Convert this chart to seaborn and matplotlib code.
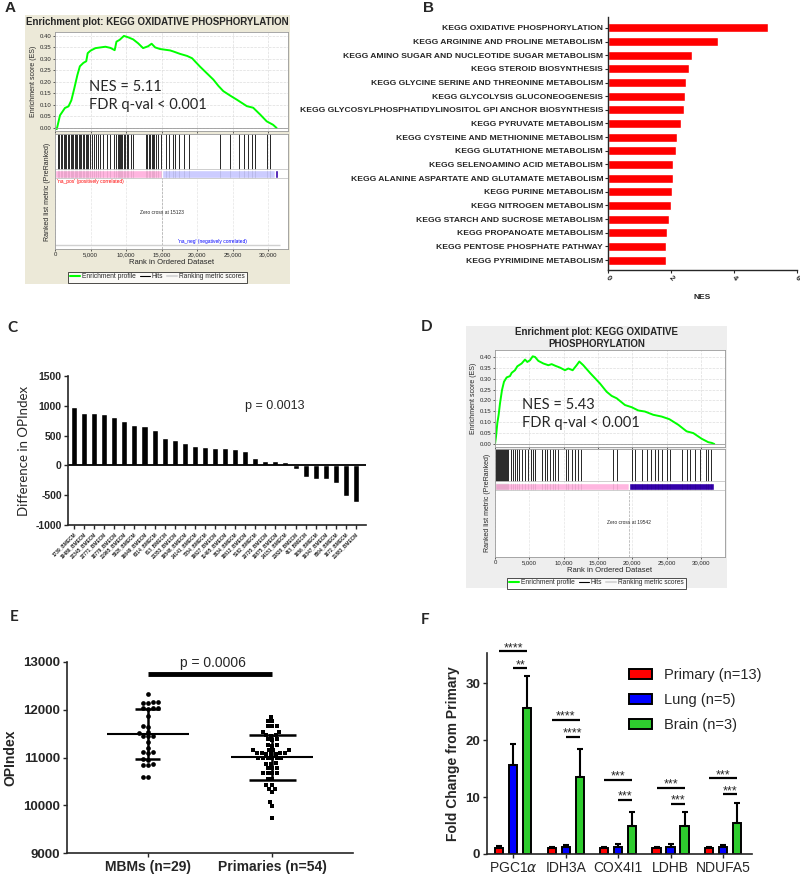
import numpy as np
import pandas as pd
import matplotlib
matplotlib.use("Agg")
import matplotlib.pyplot as plt
from matplotlib.patches import Rectangle, Patch
from matplotlib.lines import Line2D
import seaborn as sns

sns.set_style("ticks")
plt.rcParams['font.family'] = ['Liberation Sans', 'DejaVu Sans']
plt.rcParams['mathtext.fontset'] = 'dejavusans'

# ===============================
# DATA
# ===============================

# A - GSEA, metastases vs primaries
A_RANK = [0, 250, 700, 1400, 1900, 2300, 2700, 3150, 3500, 4000, 4400, 4600, 5000,
          5700, 6400, 7100, 7800, 8400, 8650, 9100, 9700, 10300, 11000, 11700, 12400,
          13100, 13600, 14100, 14800, 16200, 16700, 17600, 18600, 19300, 20400, 22300,
          23000, 23700, 24700, 25600, 27000, 27900, 28900, 29800, 30700, 31200]
A_ES = [0.0, -0.005, 0.055, 0.087, 0.094, 0.12, 0.17, 0.23, 0.268, 0.283, 0.29, 0.325,
        0.336, 0.347, 0.350, 0.353, 0.348, 0.338, 0.375, 0.383, 0.40, 0.394, 0.385,
        0.368, 0.347, 0.355, 0.366, 0.350, 0.343, 0.337, 0.332, 0.322, 0.313, 0.303,
        0.267, 0.210, 0.183, 0.160, 0.140, 0.123, 0.095, 0.088, 0.058, 0.029, 0.014, 0.0]
A_HITS = [450, 600, 800, 1000, 1200, 1400, 1600, 1800, 2000, 2200, 2400, 2600, 2800,
          3000, 3150, 3350, 3500, 3700, 3900, 4100, 4300, 4500, 4700, 4900, 5200, 5500,
          5800, 6100, 6350, 6800, 7300, 7800, 8350, 8600, 8800, 8950, 9150, 9350, 9500,
          9700, 9900, 10100, 10300, 10650, 11000, 12800, 13000, 13200, 13400, 13600,
          13800, 14000, 14200, 14500, 14900, 15600, 16000, 16600, 16900, 17400, 18100,
          18800, 23200, 24700, 25900, 26600, 27100, 27700, 28200, 29800, 30300]
A_ZERO_CROSS = 15123
A_BANDS = [(0, 15123, '#FFB6E0'), (15123, 31000, '#CCCCFF'), (31000, 31400, '#3300AA')]

# B - top enriched KEGG pathways
B_PATHWAYS = [
    'KEGG OXIDATIVE PHOSPHORYLATION',
    'KEGG ARGININE AND PROLINE METABOLISM',
    'KEGG AMINO SUGAR AND NUCLEOTIDE SUGAR METABOLISM',
    'KEGG STEROID BIOSYNTHESIS',
    'KEGG GLYCINE SERINE AND THREONINE METABOLISM',
    'KEGG GLYCOLYSIS GLUCONEOGENESIS',
    'KEGG GLYCOSYLPHOSPHATIDYLINOSITOL GPI ANCHOR BIOSYNTHESIS',
    'KEGG PYRUVATE METABOLISM',
    'KEGG CYSTEINE AND METHIONINE METABOLISM',
    'KEGG GLUTATHIONE METABOLISM',
    'KEGG SELENOAMINO ACID METABOLISM',
    'KEGG ALANINE ASPARTATE AND GLUTAMATE METABOLISM',
    'KEGG PURINE METABOLISM',
    'KEGG NITROGEN METABOLISM',
    'KEGG STARCH AND SUCROSE METABOLISM',
    'KEGG PROPANOATE METABOLISM',
    'KEGG PENTOSE PHOSPHATE PATHWAY',
    'KEGG PYRIMIDINE METABOLISM',
]
B_NES = [5.07, 3.48, 2.66, 2.57, 2.49, 2.46, 2.41, 2.31, 2.18, 2.17, 2.06, 2.05,
         2.03, 1.99, 1.94, 1.88, 1.84, 1.83]

# C - paired difference in OPIndex
C_SAMPLES = ['1739_BMECM', '19486_BMECM', '22345_BMECM', '22771_BMECM', '18779_BMECM',
             '21965_BMECM', '5928_BMECM', '16649_BMECM', '6314_BMECM', '613_BMECM',
             '23353_BMECM', '19548_BMECM', '24141_BMECM', '7354_BMECM', '19627_BMECM',
             '11405_BMECM', '3834_BMECM', '18612_BMECM', '5182_BMECM', '20735_BMECM',
             '10875_BMECM', '24151_BMECM', '23828_BMECM', '463_BMECM', '1656_BMECM',
             '19347_BMECM', '8804_BMECM', '1672_BMECM', '21883_BMECM']
C_DIFF = [972, 883, 872, 866, 810, 737, 670, 654, 587, 452, 419, 374, 318, 313, 296,
          285, 274, 235, 117, 78, 73, 56, -67, -196, -223, -235, -302, -508, -615]

# D - GSEA, second cohort
D_RANK = [0, 150, 340, 530, 730, 1020, 1310, 1700, 2180, 2430, 2910, 3250, 3880, 4370,
          4710, 5100, 5490, 5830, 6310, 7040, 7770, 8250, 8740, 9470, 10190, 10680,
          11310, 11890, 12280, 12860, 13830, 15290, 16260, 16990, 17720, 18930, 19900,
          20870, 21840, 23060, 24270, 25390, 26700, 27910, 28880, 30100, 31070, 31550, 31940]
D_ES = [0.0, 0.035, 0.096, 0.134, 0.187, 0.248, 0.286, 0.306, 0.312, 0.327, 0.339, 0.357,
        0.370, 0.388, 0.377, 0.385, 0.403, 0.400, 0.382, 0.370, 0.362, 0.367, 0.360,
        0.351, 0.339, 0.347, 0.339, 0.362, 0.379, 0.362, 0.327, 0.278, 0.240, 0.221,
        0.210, 0.179, 0.169, 0.154, 0.149, 0.134, 0.126, 0.114, 0.088, 0.058, 0.050,
        0.024, 0.008, 0.005, 0.0]
D_HITS = [100, 250, 400, 550, 700, 850, 1000, 1150, 1300, 1450, 1600, 1750, 1940, 2290,
          2580, 2910, 3250, 3540, 3890, 4370, 4850, 5200, 5490, 5820, 6800, 7280, 7610,
          8010, 8400, 8730, 9210, 10330, 10670, 11160, 11640, 12130, 12470, 17130, 17710,
          19900, 20380, 21350, 22080, 22660, 23290, 23770, 24260, 24990, 25470, 27180,
          27990, 28380, 29110, 29840, 30710, 31050, 31400]
D_ZERO_CROSS = 19542
D_BANDS = [(0, 19542, '#FFB6E0'), (19542, 31900, '#3300AA')]

# E - OPIndex per sample
E_GROUPS = ['MBMs (n=29)', 'Primaries (n=54)']
E_MBM = [12320, 12160, 12150, 12140, 12160, 12040, 12030, 12020, 12040, 11870, 11650,
         11640, 11540, 11520, 11460, 11450, 11440, 11330, 11200, 11110, 11120, 11100,
         10960, 10950, 10860, 10850, 10840, 10600, 10590]
E_PRIMARY = [11850, 11770, 11760, 11660, 11650, 11670, 11540, 11530, 11470, 11460, 11480,
             11380, 11370, 11390, 11260, 11250, 11270, 11160, 11150, 11150, 11160, 11090,
             11080, 11090, 11080, 11090, 11080, 11090, 10990, 11000, 10990, 11000, 10990,
             11000, 10880, 10870, 10870, 10780, 10790, 10780, 10680, 10670, 10680, 10680,
             10560, 10550, 10420, 10420, 10350, 10350, 10280, 10070, 9990, 9740]

# F - qPCR fold change
F_GENES = ['PGC1$\\alpha$', 'IDH3A', 'COX4I1', 'LDHB', 'NDUFA5']
F_GROUPS = ['Primary (n=13)', 'Lung (n=5)', 'Brain (n=3)']
F_COLORS = ['#FF0000', '#0000FF', '#2ECC2E']
F_PRIMARY = [1.0, 1.0, 1.0, 1.0, 1.0]
F_PRIMARY_ERR = [0.35, 0.3, 0.3, 0.3, 0.3]
F_LUNG = [15.6, 1.15, 1.3, 1.3, 1.15]
F_LUNG_ERR = [3.7, 0.4, 0.4, 0.4, 0.35]
F_BRAIN = [25.6, 13.6, 5.0, 5.0, 5.5]
F_BRAIN_ERR = [5.6, 4.9, 2.4, 2.4, 3.4]
# (gene index, from group, to group, height, stars)
F_SIG = [(0, 0, 2, 35.6, '****'), (0, 1, 2, 32.6, '**'),
         (1, 0, 2, 23.6, '****'), (1, 1, 2, 20.6, '****'),
         (2, 0, 2, 13.0, '***'), (2, 1, 2, 9.5, '***'),
         (3, 0, 2, 11.6, '***'), (3, 1, 2, 8.8, '***'),
         (4, 0, 2, 13.3, '***'), (4, 1, 2, 10.5, '***')]

# ===============================
# FIGURE HELPERS (pixel layout)
# ===============================

W, H = 800, 877
fig = plt.figure(figsize=(8, 8.77), dpi=100)


def fx(x):
    return x / W


def fy(y):
    return 1 - y / H


def box(x0, y0, x1, y1):
    return [x0 / W, 1 - y1 / H, (x1 - x0) / W, (y1 - y0) / H]


def panel_letter(x, y, letter, family='Liberation Sans'):
    fig.text(fx(x), fy(y), letter, fontsize=11, fontweight='bold', family=family,
             ha='center', va='center')


RANK_TICKS = [0, 5000, 10000, 15000, 20000, 25000, 30000]
ES_TICKS = [0.0, 0.05, 0.10, 0.15, 0.20, 0.25, 0.30, 0.35, 0.40]


def gsea_panel(bg, bg_color, title, title_y, es_box, low_box, xmax, es_ylim,
               rank, es, hits, bands, zero_cross, nes_xy, nes, legend_y, show_na):
    x0, y0, x1, y1 = bg
    fig.add_artist(Rectangle((fx(x0), fy(y1)), (x1 - x0) / W, (y1 - y0) / H,
                             transform=fig.transFigure, facecolor=bg_color,
                             edgecolor='none', zorder=-5))
    fig.text(fx((x0 + x1) / 2), fy(title_y), title, ha='center', va='center',
             fontsize=7, fontweight='bold', linespacing=1.15)

    es_ax = fig.add_axes(box(*es_box))
    es_ax.set_facecolor('white')
    sns.lineplot(x=rank, y=es, color='#00FF00', lw=1.4, ax=es_ax)
    es_ax.axhline(0, color='#999999', lw=0.6)
    es_ax.set_xlim(0, xmax)
    es_ax.set_ylim(*es_ylim)
    es_ax.set_yticks(ES_TICKS)
    es_ax.set_yticklabels([f'{t:.2f}' for t in ES_TICKS])
    es_ax.set_xticks(RANK_TICKS)
    es_ax.set_xticklabels([])
    es_ax.grid(True, ls='--', color='#DDDDDD', lw=0.5)
    es_ax.tick_params(labelsize=4.3, length=1.5, width=0.5, pad=1)
    es_ax.set_ylabel('Enrichment score (ES)', fontsize=5, labelpad=2)
    es_ax.set_xlabel('')

    fig.text(fx(nes_xy[0]), fy(nes_xy[1]), nes, fontsize=10.5, family='Lato',
             ha='left', va='center', linespacing=1.45)

    low = fig.add_axes(box(*low_box))
    low.set_facecolor('white')
    low.set_xlim(0, xmax)
    low.set_ylim(0, 1)
    low.grid(True, axis='x', ls='--', color='#E4E4E4', lw=0.5)
    low.vlines(hits, 0.70, 1.0, color='black', lw=0.7, alpha=0.85)
    for start, stop, color in bands:
        low.broken_barh([(start, stop - start)], (0.617, 0.07), facecolors=color)
    low.vlines(hits, 0.617, 0.687, color='black', lw=0.5, alpha=0.12)
    low.axhline(0.70, color='#BBBBBB', lw=0.5)
    low.axhline(0.617, color='#BBBBBB', lw=0.5)
    low.vlines([zero_cross], 0, 0.617, colors='#AAAAAA', linestyles='--', lw=0.5)
    low.text(zero_cross, 0.32, f'Zero cross at {zero_cross}', ha='center',
             va='center', fontsize=3.5)
    if show_na:
        low.hlines(0.035, 0, 31700, color='#D0D0D0', lw=1.0)
        low.text(300, 0.585, "'na_pos' (positively correlated)", color='red',
                 fontsize=3.5, va='center')
        low.text(22100, 0.065, "'na_neg' (negatively correlated)", color='blue',
                 fontsize=3.5, va='center', ha='center')
    low.set_yticks([])
    low.set_xticks(RANK_TICKS)
    low.set_xticklabels([f'{t:,}' for t in RANK_TICKS])
    low.tick_params(labelsize=4.3, length=1.5, width=0.5, pad=1)
    low.set_xlabel('Rank in Ordered Dataset', fontsize=5.5, labelpad=1)
    low.set_ylabel('Ranked list metric (PreRanked)', fontsize=5, labelpad=3)

    for a in (es_ax, low):
        for s in a.spines.values():
            s.set_color('#999999')
            s.set_linewidth(0.6)

    handles = [Line2D([], [], color='#00FF00', lw=1.5),
               Line2D([], [], color='black', lw=0.8),
               Line2D([], [], color='#D8D8D8', lw=1.5)]
    leg = fig.legend(handles, ['Enrichment profile', 'Hits', 'Ranking metric scores'],
                     loc='center', bbox_to_anchor=(fx((x0 + x1) / 2), fy(legend_y)),
                     ncol=3, fontsize=4.8, frameon=True, fancybox=False,
                     edgecolor='black', handlelength=1.5, columnspacing=0.6,
                     handletextpad=0.3, borderpad=0.3)
    leg.get_frame().set_linewidth(0.6)


# ===============================
# A - GSEA PLOT
# ===============================

panel_letter(10, 8, 'A')
gsea_panel((25, 15, 290, 284), '#ECE9D8',
           'Enrichment plot: KEGG OXIDATIVE PHOSPHORYLATION', 22,
           (55, 32, 288, 131), (55, 134, 288, 249), 32800, (-0.013, 0.417),
           A_RANK, A_ES, A_HITS, A_BANDS, A_ZERO_CROSS,
           (89, 96), 'NES = 5.11\nFDR q-val < 0.001', 277, True)

# ===============================
# B - NES BAR CHART
# ===============================

panel_letter(428, 8, 'B')
axB = fig.add_axes(box(608, 17, 797, 270))
sns.barplot(x=B_NES, y=B_PATHWAYS, color='#FF0000', saturation=1, width=0.66, ax=axB)
axB.set_xlim(0, 6)
axB.set_ylim(17.73, -0.8)
axB.set_xticks([0, 2, 4, 6])
axB.set_xticklabels(['0', '2', '4', '6'], rotation=-45, ha='center', fontsize=5.5,
                    fontweight='bold')
axB.set_yticks(range(len(B_PATHWAYS)))
axB.set_yticklabels(B_PATHWAYS, fontsize=6.1, fontweight='bold')
axB.tick_params(length=2.5, width=0.8, pad=1)
axB.set_xlabel('NES', fontsize=6, fontweight='bold', labelpad=8)
axB.set_ylabel('')
sns.despine(ax=axB)
for s in axB.spines.values():
    s.set_linewidth(1.0)

# ===============================
# C - OPINDEX DIFFERENCE
# ===============================

panel_letter(12, 328, 'C', family='Lato')
axC = fig.add_axes(box(68, 376, 366, 525))
sns.barplot(x=C_SAMPLES, y=C_DIFF, color='black', saturation=1, width=0.6, ax=axC)
axC.axhline(0, color='black', lw=1.3)
axC.set_xlim(-0.6, 29.0)
axC.set_ylim(-1000, 1500)
axC.set_yticks([-1000, -500, 0, 500, 1000, 1500])
axC.set_yticklabels(['-1000', '-500', '0', '500', '1000', '1500'], fontsize=7.5,
                    fontweight='bold')
axC.set_xticks(range(len(C_SAMPLES)))
axC.set_xticklabels(C_SAMPLES, rotation=45, ha='right', rotation_mode='anchor',
                    fontsize=3.4, fontweight='bold')
axC.tick_params(length=3, width=1.0, pad=1.5)
axC.set_ylabel('Difference in OPIndex', fontsize=9.5, family='Lato', labelpad=4)
axC.set_xlabel('')
axC.text(17.0, 1000, 'p = 0.0013', fontsize=9, va='center')
sns.despine(ax=axC)
for s in axC.spines.values():
    s.set_linewidth(1.2)

# ===============================
# D - GSEA PLOT (SECOND COHORT)
# ===============================

panel_letter(427, 327, 'D', family='Lato')
gsea_panel((466, 326, 727, 588), '#EEEEEE',
           'Enrichment plot: KEGG OXIDATIVE\nPHOSPHORYLATION', 338,
           (495, 350, 725, 447), (495, 449, 725, 557), 33500, (-0.014, 0.432),
           D_RANK, D_ES, D_HITS, D_BANDS, D_ZERO_CROSS,
           (522, 414), 'NES = 5.43\nFDR q-val < 0.001', 583, False)

# ===============================
# E - OPINDEX SCATTER
# ===============================

panel_letter(14, 617, 'E', family='Lato')
axE = fig.add_axes(box(67, 662, 353, 853))
df_e = pd.DataFrame({
    'group': [E_GROUPS[0]] * len(E_MBM) + [E_GROUPS[1]] * len(E_PRIMARY),
    'opindex': E_MBM + E_PRIMARY,
})
sns.swarmplot(data=df_e[df_e.group == E_GROUPS[0]], x='group', y='opindex',
              order=E_GROUPS, marker='o', color='black', size=3.4, ax=axE)
sns.swarmplot(data=df_e[df_e.group == E_GROUPS[1]], x='group', y='opindex',
              order=E_GROUPS, marker='s', color='black', size=3.2, ax=axE)
for i, (grp, cap) in enumerate(zip(E_GROUPS, [0.1, 0.19])):
    vals = df_e.loc[df_e.group == grp, 'opindex']
    m, sd = vals.mean(), vals.std()
    axE.hlines(m, i - 0.33, i + 0.33, color='black', lw=1.5)
    axE.hlines([m - sd, m + sd], i - cap, i + cap, color='black', lw=1.8)
    axE.vlines(i, m - sd, m + sd, color='black', lw=1.8)
axE.hlines(12750, 0, 1, color='black', lw=3.5)
axE.text(0.52, 12830, 'p = 0.0006', fontsize=10, ha='center', va='bottom')
axE.set_xlim(-0.65, 1.65)
axE.set_ylim(9000, 13000)
axE.set_yticks([9000, 10000, 11000, 12000, 13000])
axE.set_yticklabels(['9000', '10000', '11000', '12000', '13000'], fontsize=9.5,
                    fontweight='bold')
axE.set_xticks([0, 1])
axE.set_xticklabels(E_GROUPS, fontsize=10, fontweight='bold')
axE.tick_params(length=3, width=1.0, pad=2)
axE.set_ylabel('OPIndex', fontsize=10, fontweight='bold', labelpad=4)
axE.set_xlabel('')
sns.despine(ax=axE)
for s in axE.spines.values():
    s.set_linewidth(1.2)

# ===============================
# F - qPCR FOLD CHANGE
# ===============================

panel_letter(425, 620, 'F', family='Lato')
axF = fig.add_axes(box(487, 653, 752, 854))
df_f = pd.DataFrame({
    'gene': F_GENES * 3,
    'group': np.repeat(F_GROUPS, len(F_GENES)),
    'fold': F_PRIMARY + F_LUNG + F_BRAIN,
})
sns.barplot(data=df_f, x='gene', y='fold', hue='group', order=F_GENES,
            hue_order=F_GROUPS, palette=F_COLORS, saturation=1, edgecolor='black',
            linewidth=1.4, width=0.8, gap=0.4, errorbar=None, legend=False, ax=axF)

centers = []
for container, errs in zip(axF.containers, [F_PRIMARY_ERR, F_LUNG_ERR, F_BRAIN_ERR]):
    xs = [b.get_x() + b.get_width() / 2 for b in container]
    ys = [b.get_height() for b in container]
    centers.append(xs)
    axF.errorbar(xs, ys, yerr=[np.zeros(len(errs)), errs], fmt='none',
                 ecolor='black', elinewidth=1.5, capsize=2, capthick=1.5)

for gene_i, g_from, g_to, y, stars in F_SIG:
    x_a, x_b = centers[g_from][gene_i], centers[g_to][gene_i]
    axF.hlines(y, x_a, x_b, color='black', lw=1.6, clip_on=False)
    axF.text((x_a + x_b) / 2, y - 0.5, stars, ha='center', va='bottom',
             fontsize=9, clip_on=False)

axF.set_xlim(-0.5, 4.55)
axF.set_ylim(0, 35.3)
axF.set_yticks([0, 10, 20, 30])
axF.set_yticklabels(['0', '10', '20', '30'], fontsize=9.5, fontweight='bold')
axF.set_xticks(range(len(F_GENES)))
axF.set_xticklabels(F_GENES, fontsize=10)
axF.tick_params(length=3, width=1.0, pad=2)
axF.set_ylabel('Fold Change from Primary', fontsize=10, fontweight='bold', labelpad=4)
axF.set_xlabel('')
sns.despine(ax=axF)
for s in axF.spines.values():
    s.set_linewidth(1.2)

legend_handles = [Patch(facecolor=c, edgecolor='black', linewidth=1.4) for c in F_COLORS]
axF.legend(legend_handles, F_GROUPS, loc='upper left',
           bbox_to_anchor=(fx(616), fy(655)), bbox_transform=fig.transFigure,
           frameon=False, fontsize=10.5, handlelength=1.6, handleheight=0.7,
           labelspacing=0.75, handletextpad=0.8)

plt.savefig("out.png", dpi=100)
